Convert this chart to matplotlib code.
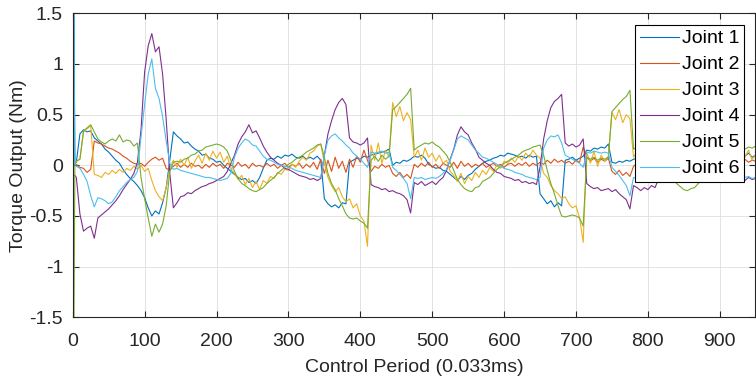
import matplotlib
matplotlib.use("Agg")
import matplotlib.pyplot as plt

plt.rcParams['font.family'] = ['Liberation Sans', 'DejaVu Sans']
plt.rcParams['axes.unicode_minus'] = False

# Control period samples (first three samples, then every 5 periods)
period = [0, 1, 3] + list(range(5, 951, 5))

joint_names = ["Joint 1", "Joint 2", "Joint 3", "Joint 4", "Joint 5", "Joint 6"]
joint_colors = ["#0072BD", "#D95319", "#EDB120", "#7E2F8E", "#77AC30", "#4DBEEE"]

joint1 = [2.5, 2.5, 0.02,
    0.03, 0.31, 0.35, 0.33, 0.34, 0.27, 0.24, 0.21, 0.16, 0.13,
    0.09, 0.05, 0.02, -0.04, -0.09, -0.13, -0.16, -0.20, -0.25, -0.32,
    -0.42, -0.50, -0.45, -0.48, -0.37, -0.22, 0.05, 0.33, 0.29, 0.26,
    0.22, 0.23, 0.19, 0.16, 0.14, 0.10, 0.11, 0.07, 0.06, 0.03,
    0.04, 0.00, -0.03, -0.06, -0.09, -0.12, -0.14, -0.13, -0.17, -0.15,
    -0.18, -0.12, -0.03, 0.05, 0.07, 0.06, 0.09, 0.07, 0.10, 0.09,
    0.11, 0.08, 0.07, 0.09, 0.06, 0.08, 0.06, 0.09, 0.05, -0.33,
    -0.38, -0.41, -0.39, -0.42, -0.37, -0.38, 0.03, 0.05, 0.07, 0.06,
    0.09, 0.08, 0.10, 0.11, 0.12, 0.13, 0.14, 0.16, 0.00, 0.03,
    0.02, 0.05, 0.04, 0.06, 0.09, 0.08, 0.10, 0.07, 0.01, -0.01,
    -0.03, -0.02, -0.05, -0.06, -0.09, -0.12, -0.15, -0.11, -0.14, -0.10,
    -0.08, -0.04, -0.01, 0.02, 0.04, 0.05, 0.07, 0.08, 0.10, 0.09,
    0.12, 0.11, 0.10, 0.08, 0.09, 0.07, 0.10, 0.08, 0.09, -0.28,
    -0.33, -0.38, -0.35, -0.41, -0.37, -0.40, 0.05, 0.06, 0.08, 0.05,
    0.07, 0.09, 0.15, 0.14, 0.17, 0.16, 0.18, 0.17, 0.21, 0.03,
    0.02, 0.04, 0.03, 0.05, 0.04, 0.06, 0.07, 0.05, 0.04, 0.01,
    0.02, -0.01, -0.03, -0.06, -0.08, -0.11, -0.13, -0.12, -0.15, -0.11,
    -0.10, -0.06, -0.02, 0.01, 0.04, 0.05, 0.07, 0.06, 0.08, 0.09,
    0.08, 0.10, 0.09, 0.11, 0.08, 0.10, 0.09, 0.12, 0.08, 0.10]

joint2 = [0.00, 0.00, 0.01,
    0.01, -0.02, -0.03, -0.07, -0.04, 0.24, 0.22, 0.21, 0.19, 0.17,
    0.16, 0.14, 0.12, 0.09, 0.07, 0.04, 0.02, 0.01, 0.02, -0.01,
    0.03, 0.06, 0.08, 0.05, 0.07, -0.03, -0.05, -0.01, 0.02, -0.02,
    0.01, -0.02, 0.02, -0.01, 0.00, -0.03, 0.01, -0.02, 0.02, -0.01,
    0.01, -0.03, 0.02, 0.00, -0.02, 0.03, -0.01, 0.01, -0.03, 0.02,
    -0.01, 0.00, -0.02, 0.02, -0.01, 0.01, -0.03, 0.00, 0.02, -0.02,
    0.01, -0.01, 0.02, -0.03, 0.01, -0.02, 0.03, -0.04, 0.06, -0.08,
    0.05, -0.06, 0.08, -0.03, 0.04, -0.07, 0.06, -0.02, 0.09, 0.03,
    0.15, 0.05, -0.06, -0.01, -0.03, 0.01, -0.02, 0.00, -0.08, -0.11,
    -0.07, -0.12, -0.09, -0.13, 0.01, -0.02, 0.02, -0.01, 0.03, -0.02,
    0.01, -0.03, 0.02, 0.00, -0.02, 0.03, -0.03, 0.04, -0.01, 0.02,
    -0.02, 0.01, -0.01, 0.02, -0.02, 0.00, 0.02, -0.01, 0.01, -0.02,
    0.01, 0.02, -0.01, 0.02, 0.00, 0.03, -0.01, 0.02, 0.00, 0.03,
    0.01, 0.05, 0.02, 0.06, 0.03, 0.05, 0.02, 0.04, 0.01, 0.05,
    0.03, 0.18, 0.08, 0.04, 0.07, 0.03, 0.06, 0.04, 0.07, -0.06,
    -0.09, -0.05, -0.10, -0.07, -0.11, -0.01, 0.02, -0.02, 0.01, 0.00,
    0.02, -0.01, 0.01, -0.03, 0.02, 0.00, -0.02, 0.02, -0.01, 0.01,
    -0.02, 0.02, 0.00, 0.01, -0.01, 0.02, 0.00, 0.03, 0.01, 0.02,
    0.04, 0.02, 0.03, 0.05, 0.03, 0.04, 0.06, 0.03, 0.05, 0.04]

joint3 = [0.02, 0.02, 0.03,
    0.04, 0.06, 0.33, 0.36, 0.39, -0.09, -0.10, -0.12, -0.07, -0.09,
    -0.05, -0.08, -0.04, -0.07, -0.03, -0.05, -0.01, -0.04, 0.00, -0.06,
    -0.03, -0.15, -0.25, -0.31, -0.35, -0.22, -0.03, 0.05, -0.02, 0.06,
    0.00, 0.08, -0.03, 0.04, 0.10, 0.02, 0.12, 0.05, 0.14, 0.07,
    0.13, 0.03, 0.09, -0.04, -0.08, -0.14, -0.10, -0.19, -0.13, -0.22,
    -0.16, -0.24, -0.15, -0.18, -0.11, -0.13, -0.07, -0.09, -0.04, -0.05,
    0.01, -0.02, 0.04, 0.08, 0.05, 0.12, 0.14, 0.19, 0.21, 0.02,
    -0.12, -0.20, -0.26, -0.22, -0.31, -0.36, -0.33, -0.42, -0.38, -0.50,
    -0.55, -0.80, 0.20, 0.05, 0.22, 0.02, 0.15, 0.08, 0.62, 0.48,
    0.58, 0.44, 0.52, 0.45, 0.08, 0.15, 0.05, 0.17, 0.08, 0.12,
    0.04, 0.10, 0.02, 0.05, -0.06, -0.10, -0.16, -0.08, -0.18, -0.11,
    -0.15, -0.07, -0.12, -0.05, -0.09, -0.02, -0.06, 0.00, -0.03, 0.04,
    0.02, 0.07, 0.03, 0.09, 0.05, 0.12, 0.08, 0.15, 0.10, 0.07,
    -0.08, -0.12, -0.20, -0.25, -0.28, -0.33, -0.31, -0.38, -0.42, -0.40,
    -0.52, -0.76, 0.13, 0.02, 0.14, -0.01, 0.10, 0.04, 0.09, 0.52,
    0.45, 0.55, 0.42, 0.50, 0.46, 0.08, 0.14, 0.06, 0.12, 0.03,
    0.10, 0.02, 0.06, -0.05, -0.09, -0.14, -0.07, -0.17, -0.12, -0.16,
    -0.08, -0.13, -0.05, -0.09, -0.02, -0.04, 0.01, 0.03, 0.00, 0.06,
    0.03, 0.08, 0.05, 0.10, 0.06, 0.12, 0.08, 0.15, 0.05, 0.11]

joint4 = [-0.10, -0.10, -0.10,
    -0.12, -0.48, -0.65, -0.62, -0.60, -0.72, -0.52, -0.49, -0.46, -0.43,
    -0.39, -0.35, -0.30, -0.24, -0.19, -0.14, -0.08, 0.03, 0.35, 0.92,
    1.18, 1.30, 1.12, 1.17, 0.90, 0.45, -0.08, -0.42, -0.37, -0.31,
    -0.30, -0.27, -0.28, -0.25, -0.23, -0.21, -0.20, -0.18, -0.17, -0.15,
    -0.13, -0.11, -0.06, 0.02, 0.10, 0.21, 0.28, 0.33, 0.40, 0.32,
    0.34, 0.27, 0.19, 0.13, 0.08, 0.05, 0.02, 0.00, -0.03, -0.04,
    -0.06, -0.08, -0.10, -0.11, -0.12, -0.14, -0.13, -0.15, -0.13, 0.10,
    0.31, 0.44, 0.55, 0.62, 0.66, 0.60, 0.27, 0.23, 0.22, 0.20,
    0.22, 0.27, -0.19, -0.21, -0.22, -0.24, -0.23, -0.26, -0.25, -0.27,
    -0.28, -0.30, -0.34, -0.47, -0.17, -0.19, -0.16, -0.20, -0.18, -0.16,
    -0.19, -0.15, -0.12, -0.05, 0.06, 0.16, 0.30, 0.38, 0.33, 0.30,
    0.22, 0.16, 0.08, 0.05, 0.02, 0.00, -0.04, -0.07, -0.08, -0.11,
    -0.12, -0.13, -0.15, -0.14, -0.17, -0.16, -0.18, -0.17, -0.19, -0.02,
    0.26, 0.44, 0.57, 0.63, 0.66, 0.70, 0.22, 0.19, 0.21, 0.18,
    0.20, 0.26, -0.18, -0.21, -0.23, -0.22, -0.25, -0.24, -0.23, -0.26,
    -0.24, -0.28, -0.31, -0.34, -0.43, -0.20, -0.22, -0.25, -0.22, -0.24,
    -0.20, -0.22, -0.13, -0.05, 0.08, 0.18, 0.30, 0.37, 0.33, 0.29,
    0.22, 0.15, 0.09, 0.04, 0.01, -0.02, -0.05, -0.07, -0.09, -0.10,
    -0.11, -0.12, -0.13, -0.12, -0.14, -0.13, -0.15, -0.12, -0.14, -0.13]

joint5 = [-2.5, -2.5, 0.02,
    0.04, 0.06, 0.34, 0.37, 0.40, 0.33, 0.26, 0.23, 0.21, 0.24,
    0.26, 0.24, 0.30, 0.23, 0.25, 0.24, 0.19, 0.22, -0.12, -0.33,
    -0.52, -0.70, -0.58, -0.66, -0.58, -0.40, -0.06, 0.03, 0.04, 0.03,
    0.06, 0.07, 0.10, 0.11, 0.14, 0.15, 0.18, 0.19, 0.20, 0.21,
    0.20, 0.18, 0.14, 0.05, -0.06, -0.13, -0.18, -0.20, -0.23, -0.25,
    -0.26, -0.24, -0.22, -0.18, -0.15, -0.12, -0.08, -0.05, -0.02, 0.01,
    0.03, 0.06, 0.08, 0.10, 0.13, 0.15, 0.17, 0.20, 0.21, 0.08,
    -0.08, -0.18, -0.24, -0.33, -0.40, -0.48, -0.52, -0.53, -0.52, -0.55,
    -0.57, -0.62, 0.05, 0.09, 0.04, 0.10, 0.06, 0.09, 0.55, 0.58,
    0.62, 0.66, 0.70, 0.76, 0.15, 0.18, 0.20, 0.22, 0.21, 0.23,
    0.20, 0.18, 0.14, 0.10, 0.03, -0.05, -0.14, -0.19, -0.23, -0.25,
    -0.26, -0.22, -0.21, -0.16, -0.14, -0.12, -0.08, -0.04, -0.01, 0.02,
    0.04, 0.06, 0.08, 0.10, 0.13, 0.15, 0.16, 0.18, 0.19, 0.20,
    0.10, -0.05, -0.18, -0.28, -0.40, -0.50, -0.51, -0.50, -0.49, -0.50,
    -0.52, -0.60, 0.08, 0.06, 0.08, 0.05, 0.07, 0.06, 0.08, 0.53,
    0.57, 0.61, 0.65, 0.68, 0.74, 0.16, 0.18, 0.20, 0.22, 0.21,
    0.19, 0.17, 0.13, 0.08, 0.01, -0.07, -0.13, -0.18, -0.21, -0.24,
    -0.25, -0.23, -0.22, -0.18, -0.14, -0.10, -0.06, -0.02, 0.01, 0.04,
    0.06, 0.08, 0.10, 0.12, 0.13, 0.15, 0.16, 0.18, 0.17, 0.19]

joint6 = [0.0, 2.0, 0.02,
    -0.01, -0.03, -0.09, -0.16, -0.30, -0.41, -0.32, -0.33, -0.35, -0.38,
    -0.36, -0.31, -0.25, -0.21, -0.17, -0.14, -0.12, -0.06, 0.28, 0.60,
    0.90, 1.05, 0.76, 0.66, 0.48, 0.24, 0.02, -0.04, -0.03, -0.05,
    -0.06, -0.07, -0.08, -0.09, -0.10, -0.11, -0.12, -0.12, -0.13, -0.14,
    -0.15, -0.14, -0.13, -0.08, 0.08, 0.17, 0.22, 0.26, 0.24, 0.20,
    0.19, 0.14, 0.09, 0.06, 0.05, 0.03, 0.01, 0.00, -0.01, -0.02,
    -0.03, -0.05, -0.06, -0.07, -0.08, -0.09, -0.10, -0.11, -0.12, 0.10,
    0.25, 0.29, 0.31, 0.27, 0.24, 0.20, 0.17, 0.12, 0.09, 0.06,
    0.02, -0.02, 0.13, 0.12, 0.13, 0.14, 0.12, 0.13, -0.02, -0.05,
    -0.09, -0.13, -0.18, -0.33, -0.12, -0.13, -0.12, -0.14, -0.13, -0.12,
    -0.13, -0.11, -0.08, -0.04, 0.05, 0.15, 0.26, 0.29, 0.27, 0.25,
    0.20, 0.15, 0.12, 0.08, 0.07, 0.05, 0.03, 0.01, -0.01, -0.03,
    -0.04, -0.05, -0.07, -0.08, -0.09, -0.11, -0.12, -0.13, -0.14, -0.12,
    0.17, 0.25, 0.29, 0.28, 0.30, 0.22, 0.10, 0.08, 0.06, 0.04,
    0.02, -0.02, 0.13, 0.12, 0.14, 0.13, 0.12, 0.13, 0.12, -0.02,
    -0.06, -0.10, -0.15, -0.20, -0.30, -0.12, -0.13, -0.12, -0.14, -0.13,
    -0.11, -0.09, -0.05, 0.04, 0.14, 0.24, 0.28, 0.27, 0.25, 0.21,
    0.16, 0.12, 0.08, 0.06, 0.04, 0.02, 0.00, -0.02, -0.03, -0.05,
    -0.06, -0.07, -0.08, -0.09, -0.10, -0.11, -0.12, -0.11, -0.13, -0.12]

y_ticks = [-1.5, -1, -0.5, 0, 0.5, 1, 1.5]
y_tick_labels = ["-1.5", "-1", "-0.5", "0", "0.5", "1", "1.5"]
x_ticks = [0, 100, 200, 300, 400, 500, 600, 700, 800, 900]

fig = plt.figure(figsize=(7.56, 3.78), dpi=100)
ax = fig.add_axes([0.0962, 0.1606, 0.9025, 0.8042])

series = [joint1, joint2, joint3, joint4, joint5, joint6]
for vals, name, col in zip(series, joint_names, joint_colors):
    n = min(len(period), len(vals))
    ax.plot(period[:n], vals[:n], color=col, lw=0.8, label=name)

ax.set_xlim(0, 949)
ax.set_ylim(-1.5, 1.5)
ax.set_xticks(x_ticks)
ax.set_yticks(y_ticks)
ax.set_yticklabels(y_tick_labels)
ax.grid(True, color='#dedede', lw=0.6)
ax.set_axisbelow(True)
for s in ax.spines.values():
    s.set_color('#262626')
    s.set_linewidth(0.8)
ax.tick_params(direction='in', top=True, right=True, length=4.5, width=0.8,
               colors='#262626', labelsize=14)
ax.tick_params(axis='x', pad=11.5)
ax.tick_params(axis='y', pad=7)
ax.set_xlabel("Control Period (0.033ms)", fontsize=14, color='#262626', labelpad=6)
ax.set_ylabel("Torque Output (Nm)", fontsize=14, color='#262626', labelpad=2)

leg = ax.legend(loc='upper right', bbox_to_anchor=(0.9839, 0.9615),
                fontsize=14, fancybox=False, framealpha=1,
                edgecolor='black', borderaxespad=0.0, handlelength=2.0,
                handletextpad=0.15, labelspacing=0.43, borderpad=0.25)
leg.get_frame().set_linewidth(0.8)

fig.savefig("out.png", dpi=100)
